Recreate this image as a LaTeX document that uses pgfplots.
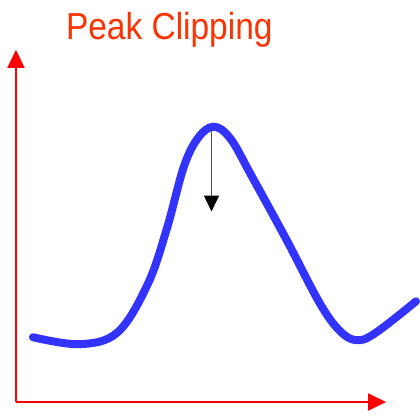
\documentclass[border=0pt]{standalone}
\usepackage{pgfplots}
\pgfplotsset{compat=1.18}
\usetikzlibrary{arrows.meta}
\usepackage{fontspec}
\newfontfamily\titlefont{Liberation Sans}[FakeStretch=0.89]
\definecolor{curveblue}{RGB}{51,51,255}
\definecolor{titlered}{RGB}{255,51,0}
\begin{document}
\begin{tikzpicture}
\begin{axis}[
    width=420pt, height=416pt, scale only axis,
    xmin=0, xmax=420, ymin=0, ymax=416,
    y dir=reverse,
    hide axis, clip=false,
]
% frame so the page keeps the reference size
\path (rel axis cs:0,0) rectangle (rel axis cs:1,1);

% red axes
\addplot[red, line width=2pt, -{Triangle[length=18pt,width=17pt]}]
    coordinates {(16,403) (16,50)};
\addplot[red, line width=2pt, -{Triangle[length=18pt,width=17pt]}]
    coordinates {(16,403) (387,403)};

% load curve
\addplot[curveblue, line width=8pt, smooth, tension=0.6, line cap=round]
    coordinates {
    (33,338)(80,345)(118,333)(148,285)(167,230)(184,168)(198,139)
    (214,127)(231,139)(252,176)(287,240)(320,303)(340,331)(357,341)
    (376,334)(417,302)
    };

% clipping arrow
\addplot[gray!60!black, line width=1.5pt,
    -{Triangle[length=16pt,width=15pt,color=black,fill=black]}]
    coordinates {(212,130) (212,212)};

\node[anchor=base west, inner sep=0pt, text=titlered]
    at (axis cs:66,40) {\titlefont\fontsize{37.7}{40}\selectfont Peak Clipping};
\end{axis}
\end{tikzpicture}
\end{document}
